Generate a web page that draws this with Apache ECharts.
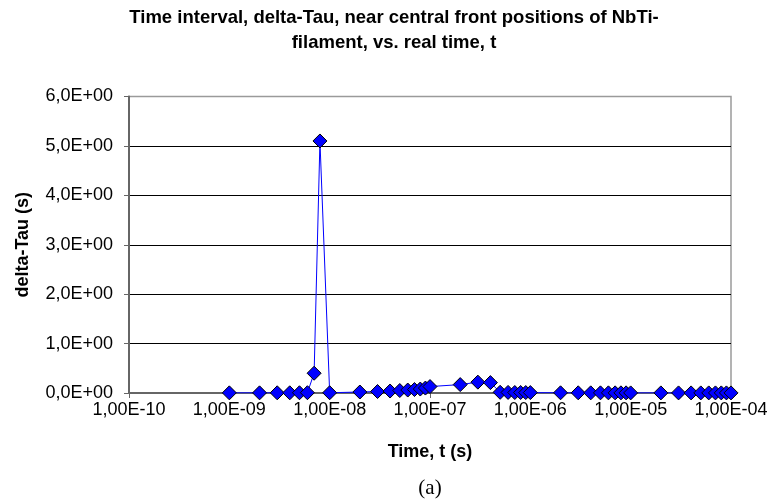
<!DOCTYPE html>
<html>
<head>
<meta charset="utf-8">
<script src="https://cdn.jsdelivr.net/npm/echarts@6/dist/echarts.min.js"></script>
<style>
  html, body { margin: 0; padding: 0; background: #fff; }
  #chart { width: 783px; height: 503px; }
</style>
</head>
<body>
<div id="chart"></div>
<script>
// Real time t (s) at each sampled front position
const times = [
  1e-9, 2e-9, 3e-9, 4e-9, 5e-9, 6e-9, 7e-9, 8e-9,
  1e-8, 2e-8, 3e-8, 4e-8, 5e-8, 6e-8, 7e-8, 8e-8, 9e-8,
  1e-7, 2e-7, 3e-7, 4e-7, 5e-7, 6e-7, 7e-7, 8e-7, 9e-7,
  1e-6, 2e-6, 3e-6, 4e-6, 5e-6, 6e-6, 7e-6, 8e-6, 9e-6,
  1e-5, 2e-5, 3e-5, 4e-5, 5e-5, 6e-5, 7e-5, 8e-5, 9e-5,
  1e-4
];
// Time interval delta-Tau (s) at those instants
const deltaTau = [
  0.003, 0.003, 0.004, 0.004, 0.005, 0.006, 0.40, 5.10,
  0.005, 0.02, 0.03, 0.04, 0.05, 0.06, 0.07, 0.08, 0.10,
  0.13, 0.17, 0.22, 0.21, 0.014, 0.012, 0.010, 0.010, 0.009,
  0.008, 0.004, 0.004, 0.003, 0.003, 0.003, 0.003, 0.003, 0.003,
  0.002, 0.002, 0.002, 0.002, 0.002, 0.002, 0.002, 0.002, 0.002,
  0.002
];

const titleText = 'Time interval, delta-Tau, near central front positions of NbTi-\nfilament, vs. real time, t';
const xName = 'Time, t (s)';
const yName = 'delta-Tau (s)';
const caption = '(a)';

// Comma decimal, engineering style: 1,00E-07 / 5,0E+00
function fmtX(v) {
  const e = Math.round(Math.log10(v));
  const sign = e < 0 ? '-' : '+';
  const a = String(Math.abs(e)).padStart(2, '0');
  return '1,00E' + sign + a;
}
function fmtY(v) {
  return v.toFixed(1).replace('.', ',') + 'E+00';
}

const chart = echarts.init(document.getElementById('chart'), null, { renderer: 'canvas' });
const font = 'Liberation Sans, Arial, sans-serif';

chart.setOption({
  animation: false,
  backgroundColor: '#ffffff',
  title: {
    text: titleText,
    left: 389,
    top: 0,
    textAlign: 'center',
    textStyle: {
      fontFamily: font, fontSize: 18.5, fontWeight: 'bold', color: '#000',
      lineHeight: 25
    }
  },
  grid: {
    left: 129, right: 52, top: 96.5, bottom: 110,
    show: true, borderColor: '#9a9a9a', borderWidth: 1.5,
    containLabel: false
  },
  xAxis: {
    type: 'log',
    logBase: 10,
    min: 1e-10,
    max: 1e-4,
    name: xName,
    nameLocation: 'middle',
    nameGap: 50,
    nameTextStyle: { fontFamily: font, fontSize: 18, fontWeight: 'bold', color: '#000' },
    axisLine: { onZero: false, lineStyle: { color: '#666', width: 2 } },
    axisTick: { show: true, length: 5, lineStyle: { color: '#666' } },
    minorTick: { show: false },
    splitLine: { show: false },
    axisLabel: {
      fontFamily: font, fontSize: 18, color: '#000', margin: 8,
      formatter: fmtX, showMinLabel: true, showMaxLabel: true
    }
  },
  yAxis: {
    type: 'value',
    min: 0,
    max: 6,
    interval: 1,
    name: yName,
    nameLocation: 'middle',
    nameGap: 97,
    nameTextStyle: { fontFamily: font, fontSize: 18, fontWeight: 'bold', color: '#000' },
    axisLine: { show: true, lineStyle: { color: '#666', width: 2 } },
    axisTick: { show: true, length: 5, lineStyle: { color: '#666' } },
    splitLine: { show: true, showMinLine: false, showMaxLine: false, lineStyle: { color: '#000', width: 1 } },
    axisLabel: { fontFamily: font, fontSize: 18, color: '#000', margin: 16, formatter: fmtY }
  },
  graphic: [{
    type: 'text',
    x: 430,
    y: 488,
    style: {
      text: caption, font: '21px "Liberation Serif", "Times New Roman", serif', fill: '#000',
      align: 'center', verticalAlign: 'middle'
    }
  }],
  series: [{
    type: 'line',
    data: times.map((t, i) => [t, deltaTau[i]]),
    symbol: 'diamond',
    symbolSize: [14, 14],
    itemStyle: { color: '#0000ff', borderColor: '#000', borderWidth: 1 },
    lineStyle: { color: '#0000ff', width: 1 },
    z: 5
  }]
});
</script>
</body>
</html>
